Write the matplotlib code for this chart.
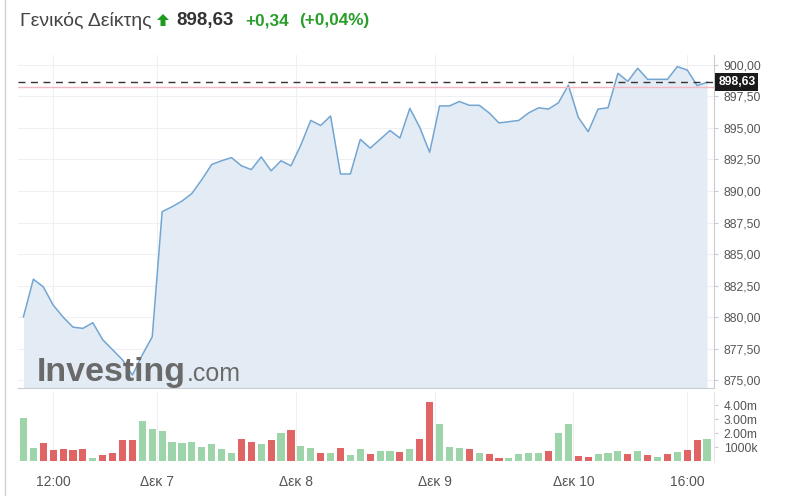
import numpy as np
import matplotlib
matplotlib.use('agg')
import matplotlib.pyplot as plt
from matplotlib.patches import Polygon
from matplotlib.lines import Line2D

plt.rcParams['font.family'] = ['Liberation Sans', 'DejaVu Sans']

# 30-minute closes, Dec 6 10:30 -> Dec 10 17:00
price = [880.02, 883.0, 882.4, 880.95, 880.0, 879.2, 879.1, 879.55, 878.2, 877.4,
         876.6, 875.4, 877.0, 878.43, 888.36, 888.75, 889.2, 889.8, 890.9, 892.1,
         892.4, 892.65, 892.0, 891.7, 892.7, 891.6, 892.4, 892.0, 893.65, 895.6,
         895.2, 895.95, 891.35, 891.35, 894.1, 893.4, 894.1, 894.8, 894.2, 896.56,
         895.05, 893.07, 896.75, 896.75, 897.1, 896.8, 896.8, 896.2, 895.4, 895.5,
         895.6, 896.2, 896.6, 896.5, 897.0, 898.4, 895.85, 894.7, 896.5, 896.6,
         899.34, 898.7, 899.74, 898.86, 898.86, 898.86, 899.87, 899.6, 898.36, 898.63]

# volume in millions
volume = [3.07, 0.91, 1.32, 0.79, 0.84, 0.79, 0.86, 0.19, 0.41, 0.60,
          1.49, 1.49, 2.90, 2.28, 2.18, 1.39, 1.32, 1.39, 1.03, 1.22,
          0.84, 0.55, 1.56, 1.39, 1.22, 1.49, 2.04, 2.21, 1.10, 0.94,
          0.60, 0.60, 0.94, 0.46, 0.84, 0.48, 0.74, 0.70, 0.62, 0.84,
          1.56, 4.27, 2.64, 1.03, 0.94, 0.84, 0.60, 0.50, 0.22, 0.19,
          0.48, 0.58, 0.58, 0.70, 2.04, 2.64, 0.38, 0.29, 0.50, 0.58,
          0.74, 0.50, 0.74, 0.41, 0.29, 0.50, 0.67, 0.77, 1.49, 1.56]

vol_up = "GGRRRRRGRRRRGGGGGGGGGGRRGRGRGGRGRGGRGGRGRRGGGRGRRGGGGRGGRRGGGRGRGRGRRG"

last = 898.63
prev_close = 898.29

ytick_vals = [875, 877.5, 880, 882.5, 885, 887.5, 890, 892.5, 895, 897.5, 900]
vtick_vals = [1, 2, 3, 4]
vtick_labels = ['1000k', '2.00m', '3.00m', '4.00m']
xtick_pos = [3, 13.5, 27.5, 41.5, 55.5, 67]
xtick_labels = ['12:00', 'Δεκ 7', 'Δεκ 8', 'Δεκ 9', 'Δεκ 10', '16:00']

W, H = 800, 496
def px(x, y):
    return (x / W, 1 - y / H)

fig = plt.figure(figsize=(8, 4.96), dpi=100)
ax = fig.add_axes([18 / W, 1 - 388 / H, (714 - 18) / W, (388 - 55) / H])
axv = fig.add_axes([18 / W, 1 - 462 / H, (714 - 18) / W, (462 - 392) / H])

x = np.arange(len(price))
line_c = '#72a5d1'
ax.fill_between(x, price, 870, color='#e3ecf5', lw=0)
ax.plot(x, price, color=line_c, lw=1.1)
ax.axhline(prev_close, color='#f4b8c4', lw=1.0)
ax.axhline(last, color='#333333', lw=1.0, dashes=(5, 4))

ax.set_xlim(-0.55, 69.7)
ax.set_ylim(874.37, 900.79)
ax.set_yticks(ytick_vals)
ax.set_yticklabels(['{:.2f}'.format(v).replace('.', ',') for v in ytick_vals])
ax.yaxis.tick_right()
ax.tick_params(axis='y', length=3, width=0.8, color='#c8ccd2', pad=4,
               labelsize=8.7, labelcolor='#555555')
ax.set_xticks(xtick_pos)
ax.tick_params(axis='x', length=0, labelbottom=False)
ax.grid(True, color='#eef0f4', lw=0.8)
ax.set_axisbelow(True)
for s in ['top', 'left']:
    ax.spines[s].set_visible(False)
ax.spines['right'].set_color('#c8ccd2')
ax.spines['bottom'].set_color('#c8ccd2')

# watermark
fig.text(37 / W, 1 - 381 / H, 'Investing', fontsize=24.5, fontweight='bold',
         color='#6a6a6a', ha='left', va='baseline')
fig.text(187 / W, 1 - 381 / H, '.com', fontsize=18, color='#6a6a6a',
         ha='left', va='baseline')

# last price label
ax.annotate('898,63', xy=(1.0, last), xycoords=('axes fraction', 'data'),
            xytext=(3, 0), textcoords='offset points', ha='left', va='center',
            fontsize=8.7, fontweight='bold', color='white',
            bbox=dict(boxstyle='square,pad=0.25', fc='#1a1a1a', ec='none'))

# volume
cols = ['#9ed4a9' if c == 'G' else '#e06464' for c in vol_up]
axv.bar(x, volume, width=0.72, color=cols)
axv.set_xlim(-0.55, 69.7)
axv.set_ylim(-0.07, 4.97)
axv.set_yticks(vtick_vals)
axv.set_yticklabels(vtick_labels)
axv.yaxis.tick_right()
axv.tick_params(axis='y', length=3, width=0.8, color='#c8ccd2', pad=4,
                labelsize=8.7, labelcolor='#555555')
axv.set_xticks(xtick_pos)
axv.set_xticklabels(xtick_labels)
axv.tick_params(axis='x', length=0, pad=9, labelsize=10, labelcolor='#555555')
axv.grid(True, axis='x', color='#eef0f4', lw=0.8)
axv.set_axisbelow(True)
for s in ['top', 'left', 'bottom']:
    axv.spines[s].set_visible(False)
axv.spines['right'].set_color('#e4e6ea')

# header
fig.text(20 / W, 1 - 21 / H, 'Γενικός Δείκτης', fontsize=14, color='#444444',
         ha='left', va='center')
arrow = [px(163, 14), px(169, 20), px(165.5, 20), px(165.5, 26),
         px(160.5, 26), px(160.5, 20), px(157, 20)]
fig.add_artist(Polygon(arrow, closed=True, transform=fig.transFigure,
                       fc='#1e9a1e', ec='none'))
fig.text(176 / W, 1 - 21 / H, '898,63', fontsize=13.5, fontweight='bold',
         color='#333333', ha='left', va='center')
fig.text(245 / W, 1 - 21 / H, '+0,34', fontsize=12.3, fontweight='bold',
         color='#2a9d2a', ha='left', va='center')
fig.text(299 / W, 1 - 21 / H, '(+0,04%)', fontsize=12.3, fontweight='bold',
         color='#2a9d2a', ha='left', va='center')

# page border on the left
fig.add_artist(Line2D([5 / W, 5 / W], [0, 1], transform=fig.transFigure,
                      color='#d0d0d0', lw=1))

fig.savefig('out.png', dpi=100)
